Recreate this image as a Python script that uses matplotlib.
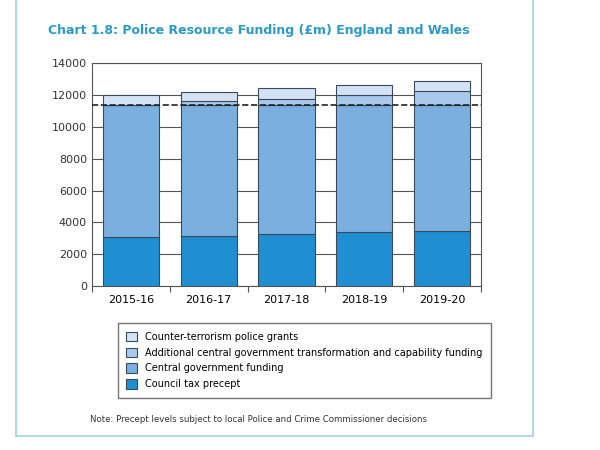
import matplotlib.pyplot as plt
from matplotlib.patches import Patch
import matplotlib.lines as mlines

years = ['2015-16', '2016-17', '2017-18', '2018-19', '2019-20']
council_tax = [3100, 3180, 3300, 3370, 3490]
central_total = 11380
central = [central_total - c for c in council_tax]
additional = [0, 210, 380, 590, 860]
counter_terror = [600, 590, 650, 630, 610]

c_ct = '#d3e3f5'
c_add = '#a9c9ec'
c_cen = '#7aafe0'
c_tax = '#1f8fd2'
edge = '#3a4a5a'

fig = plt.figure(figsize=(6, 4.5), dpi=100)
ax = fig.add_axes([0.153, 0.364, 0.649, 0.496])

x = range(len(years))
w = 0.72
ax.bar(x, council_tax, w, color=c_tax, edgecolor=edge, linewidth=0.8, zorder=3)
ax.bar(x, central, w, bottom=council_tax, color=c_cen, edgecolor=edge, linewidth=0.8, zorder=3)
b2 = [a + b for a, b in zip(council_tax, central)]
ax.bar(x, additional, w, bottom=b2, color=c_add, edgecolor=edge, linewidth=0.8, zorder=3)
b3 = [a + b for a, b in zip(b2, additional)]
ax.bar(x, counter_terror, w, bottom=b3, color=c_ct, edgecolor=edge, linewidth=0.8, zorder=3)
ax.axhline(central_total, color='#222222', linestyle='--', linewidth=1.2, zorder=4)

ax.set_ylim(0, 14000)
ax.set_xlim(-0.5, 4.5)
ax.set_yticks(range(0, 14001, 2000))
ax.set_xticks([i - 0.5 for i in range(6)], minor=False)
ax.set_xticklabels([])
ax.set_xticks(list(x), minor=True)
ax.set_xticklabels(years, minor=True, fontsize=8)
ax.tick_params(axis='x', which='minor', length=0, pad=6)
ax.tick_params(axis='x', which='major', length=4, color='#555555')
ax.tick_params(axis='y', length=0, labelsize=8, colors='#333333')
ax.grid(axis='y', color='#555555', linewidth=0.8, zorder=0)
for s in ax.spines.values():
    s.set_color('#555555')

handles = [Patch(facecolor=c, edgecolor=edge, linewidth=0.8) for c in [c_ct, c_add, c_cen, c_tax]]
labels = ['Counter-terrorism police grants',
          'Additional central government transformation and capability funding',
          'Central government funding', 'Council tax precept']
fig.legend(handles, labels, loc='upper left', bbox_to_anchor=(0.188, 0.293), fontsize=7,
           frameon=True, fancybox=False, edgecolor='#555555', borderpad=0.9,
           handlelength=1.1, handleheight=1.1, labelspacing=0.6, mode=None)

fig.text(0.08, 0.925, 'Chart 1.8: Police Resource Funding (£m) England and Wales',
         fontsize=9, fontweight='bold', color='#2a9ac9')
fig.text(0.15, 0.063, 'Note: Precept levels subject to local Police and Crime Commissioner decisions',
         fontsize=6.2, color='#333333')

fc = '#9fd3df'
fig.add_artist(mlines.Line2D([0.027, 0.027], [0.031, 1.0], color=fc, lw=1.2))
fig.add_artist(mlines.Line2D([0.888, 0.888], [0.031, 1.0], color=fc, lw=1.2))
fig.add_artist(mlines.Line2D([0.027, 0.888], [0.031, 0.031], color=fc, lw=1.2))

fig.savefig('out.png', dpi=100)
